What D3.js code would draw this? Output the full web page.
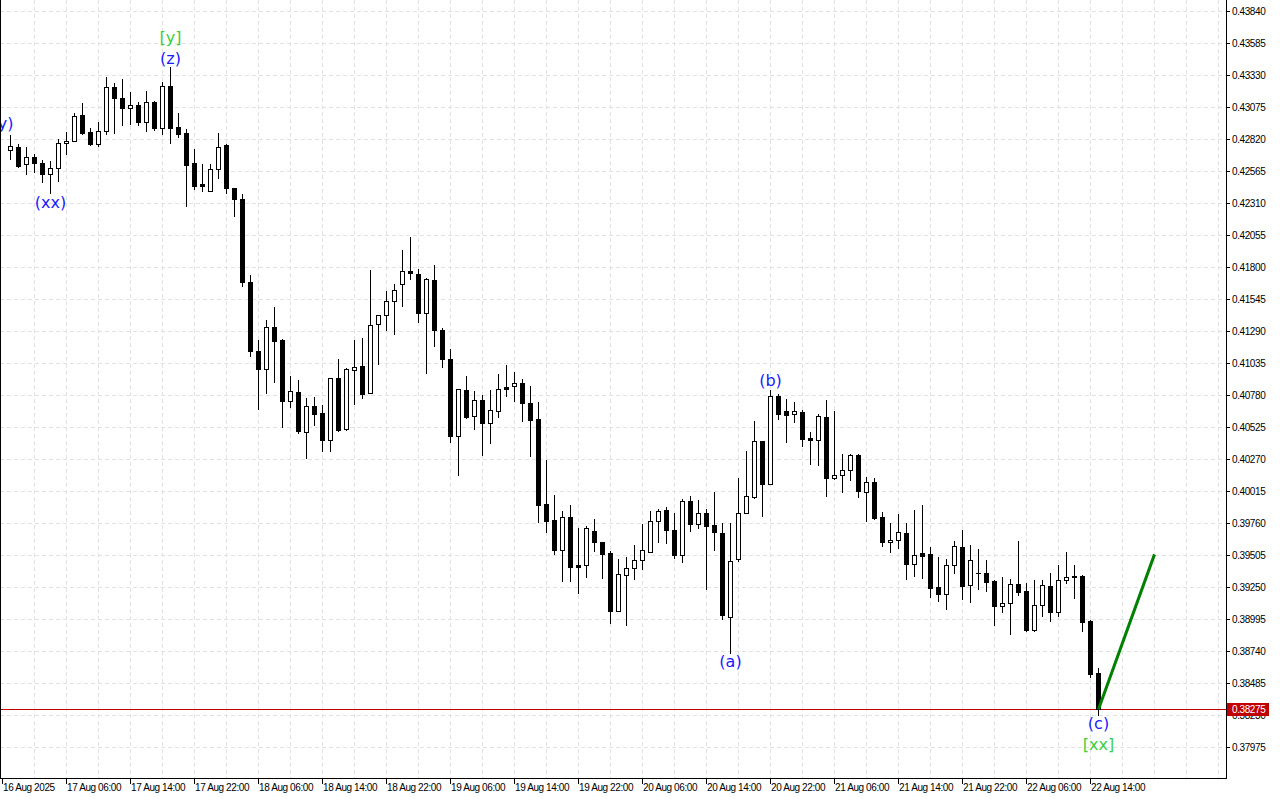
<!DOCTYPE html>
<html><head><meta charset="utf-8">
<script src="https://cdn.jsdelivr.net/npm/d3@7"></script>
<style>body{margin:0;background:#fff;} svg{display:block;}</style>
</head><body><svg id="c" width="1280" height="800"></svg>
<script>
// ---- data (hourly candles, 16 Aug 23:00 .. 22 Aug 15:00) ----
const opens=[0.42732,0.42756,0.42621,0.42677,0.42629,0.42541,0.42589,0.42788,0.42804,0.43011,
0.42876,0.42780,0.42884,0.43234,0.43147,0.43067,0.43091,0.42956,0.43115,0.42908,
0.43242,0.42916,0.42868,0.42629,0.42461,0.42406,0.42581,0.42772,0.42430,0.42342,
0.41681,0.41131,0.40987,0.41322,0.41218,0.40732,0.40804,0.40485,0.40692,0.40637,
0.40421,0.40916,0.40509,0.40979,0.41011,0.40796,0.41346,0.41418,0.41529,0.41665,
0.41768,0.41744,0.41434,0.41696,0.41298,0.41067,0.40453,0.40820,0.40613,0.40740,
0.40557,0.40653,0.40844,0.40852,0.40876,0.40716,0.40589,0.39911,0.39784,0.39545,
0.39808,0.39425,0.39425,0.39696,0.39609,0.39521,0.39059,0.39346,0.39401,0.39465,
0.39529,0.39776,0.39864,0.39704,0.39505,0.39935,0.39752,0.39840,0.39744,0.39680,
0.39011,0.39473,0.39840,0.39967,0.40413,0.40071,0.40772,0.40653,0.40629,0.40645,
0.40437,0.40421,0.40605,0.40119,0.40143,0.40182,0.40302,0.40007,0.40087,0.39808,
0.39609,0.39625,0.39680,0.39433,0.39521,0.39513,0.39250,0.39194,0.39425,0.39569,
0.39266,0.39362,0.39362,0.39298,0.39099,0.39123,0.39274,0.39218,0.38907,0.39107,
0.39258,0.39051,0.39306,0.39338,0.39338,0.38979,0.38565];
const highs=[0.42852,0.42780,0.42756,0.42701,0.42653,0.42645,0.42820,0.42876,0.43027,0.43107,
0.42908,0.42956,0.43314,0.43266,0.43298,0.43195,0.43115,0.43203,0.43123,0.43274,
0.43394,0.43027,0.42900,0.42740,0.42621,0.42621,0.42868,0.42780,0.42430,0.42382,
0.41736,0.41218,0.41378,0.41481,0.41226,0.40932,0.40900,0.40756,0.40764,0.40700,
0.40916,0.41067,0.40995,0.41218,0.41234,0.41776,0.41418,0.41609,0.41665,0.41936,
0.42039,0.41784,0.41712,0.41816,0.41314,0.41147,0.40828,0.40932,0.40812,0.40780,
0.40820,0.40947,0.41019,0.40963,0.40908,0.40852,0.40724,0.40262,0.39983,0.39856,
0.39904,0.39720,0.39736,0.39792,0.39609,0.39537,0.39473,0.39489,0.39585,0.39752,
0.39856,0.39872,0.39888,0.39840,0.39951,0.39975,0.39943,0.39872,0.40007,0.39760,
0.39760,0.40119,0.40334,0.40573,0.40413,0.40820,0.40788,0.40748,0.40724,0.40661,
0.40485,0.40629,0.40740,0.40653,0.40310,0.40310,0.40310,0.40127,0.40119,0.39848,
0.39760,0.39832,0.39760,0.39864,0.39904,0.39569,0.39489,0.39473,0.39617,0.39704,
0.39585,0.39553,0.39465,0.39306,0.39330,0.39314,0.39617,0.39282,0.39306,0.39306,
0.39362,0.39425,0.39529,0.39425,0.39346,0.38987,0.38604];
const lows=[0.42661,0.42597,0.42541,0.42557,0.42477,0.42390,0.42485,0.42701,0.42804,0.42860,
0.42772,0.42764,0.42860,0.42868,0.42932,0.42940,0.42932,0.42884,0.42892,0.42860,
0.42788,0.42836,0.42286,0.42422,0.42406,0.42406,0.42509,0.42390,0.42207,0.41649,
0.41091,0.40669,0.40796,0.40884,0.40525,0.40684,0.40477,0.40278,0.40541,0.40334,
0.40334,0.40493,0.40501,0.40708,0.40756,0.40796,0.41027,0.41298,0.41266,0.41489,
0.41704,0.41362,0.40955,0.41171,0.41003,0.40406,0.40143,0.40597,0.40509,0.40302,
0.40398,0.40605,0.40772,0.40732,0.40573,0.40294,0.39768,0.39688,0.39513,0.39298,
0.39298,0.39202,0.39330,0.39537,0.39322,0.38963,0.39059,0.38947,0.39314,0.39394,
0.39529,0.39609,0.39601,0.39481,0.39449,0.39696,0.39720,0.39234,0.39545,0.38995,
0.38724,0.39457,0.39840,0.39959,0.39816,0.40071,0.40589,0.40406,0.40565,0.40374,
0.40230,0.40222,0.39975,0.40111,0.40007,0.40103,0.39967,0.39776,0.39795,0.39577,
0.39529,0.39561,0.39314,0.39338,0.39322,0.39170,0.39138,0.39075,0.39362,0.39154,
0.39131,0.39234,0.39218,0.38947,0.39051,0.38876,0.39186,0.38899,0.38899,0.39019,
0.38979,0.39019,0.39282,0.39162,0.38899,0.38533,0.38230];
const closes=[0.42764,0.42605,0.42677,0.42629,0.42541,0.42589,0.42788,0.42804,0.43003,0.42868,
0.42780,0.42884,0.43234,0.43147,0.43067,0.43091,0.42956,0.43115,0.42908,0.43242,
0.42908,0.42860,0.42613,0.42446,0.42446,0.42581,0.42756,0.42430,0.42342,0.41681,
0.41131,0.40987,0.41322,0.41210,0.40732,0.40812,0.40493,0.40692,0.40629,0.40421,
0.40916,0.40501,0.40987,0.41003,0.40788,0.41338,0.41418,0.41529,0.41617,0.41768,
0.41752,0.41434,0.41704,0.41298,0.41067,0.40453,0.40828,0.40605,0.40740,0.40557,
0.40661,0.40828,0.40828,0.40876,0.40716,0.40581,0.39904,0.39776,0.39545,0.39808,
0.39409,0.39409,0.39720,0.39609,0.39513,0.39059,0.39354,0.39401,0.39465,0.39545,
0.39776,0.39856,0.39704,0.39505,0.39935,0.39752,0.39840,0.39736,0.39688,0.39027,
0.39457,0.39840,0.39975,0.40413,0.40071,0.40772,0.40629,0.40621,0.40653,0.40429,
0.40421,0.40613,0.40119,0.40143,0.40182,0.40302,0.40015,0.40087,0.39800,0.39609,
0.39625,0.39688,0.39433,0.39505,0.39497,0.39242,0.39194,0.39425,0.39577,0.39258,
0.39465,0.39362,0.39290,0.39099,0.39123,0.39274,0.39210,0.38907,0.39107,0.39266,
0.39051,0.39306,0.39330,0.39330,0.38971,0.38557,0.38275];

const timeLabels=["16 Aug 2025","17 Aug 06:00","17 Aug 14:00","17 Aug 22:00","18 Aug 06:00","18 Aug 14:00",
"18 Aug 22:00","19 Aug 06:00","19 Aug 14:00","19 Aug 22:00","20 Aug 06:00","20 Aug 14:00",
"20 Aug 22:00","21 Aug 06:00","21 Aug 14:00","21 Aug 22:00","22 Aug 06:00","22 Aug 14:00"];
const timeLabelIndex=[-1,7,15,23,31,39,47,55,63,71,79,87,95,103,111,119,127,135];
const priceTicks=[0.43840,0.43585,0.43330,0.43075,0.42820,0.42565,0.42310,0.42055,0.41800,0.41545,
0.41290,0.41035,0.40780,0.40525,0.40270,0.40015,0.39760,0.39505,0.39250,0.38995,0.38740,0.38485,0.38230,0.37975];
const currentPrice=0.38275;
const projIndex=[136,143];
const projPrice=[0.38275,0.39510];
const waveText=["(y)","(xx)","[y]","(z)","(a)","(b)","(c)","[xx]"];
const waveIndex=[-1,5,20,20,90,95,136,136];
const wavePrice=[0.42940,0.42318,0.43627,0.43460,0.38660,0.40892,0.38166,0.37991];
const waveColor=["#1a1aff","#1a1aff","#3ccf3c","#1a1aff","#1a1aff","#1a1aff","#1a1aff","#3ccf3c"];

// ---- layout ----
const W=1280,H=800, plotR=1226, plotB=778;
const svg=d3.select("#c");
svg.append("rect").attr("width",W).attr("height",H).attr("fill","#fff");
const x=d3.scaleLinear().domain([-1,143]).range([2.5,1154.5]);
const y=d3.scaleLinear().domain([0.37728,0.439277]).range([plotB,0]);
const ry=v=>Math.round(y(v));

svg.append("clipPath").attr("id","pc").append("rect").attr("x",0).attr("y",0).attr("width",plotR).attr("height",plotB);
const plot=svg.append("g").attr("clip-path","url(#pc)");

// grid
const gridColor="#e2e2e2";
const gx=d3.range(3,152,4);
plot.append("g").selectAll("line").data(gx).join("line")
  .attr("x1",d=>x(d)).attr("x2",d=>x(d)).attr("y1",0).attr("y2",plotB)
  .attr("stroke",gridColor).attr("stroke-dasharray","4,3");
plot.append("g").selectAll("line").data(priceTicks).join("line")
  .attr("x1",0).attr("x2",plotR).attr("y1",d=>ry(d)+0.5).attr("y2",d=>ry(d)+0.5)
  .attr("stroke",gridColor).attr("stroke-dasharray","4,3");

// current price line
plot.append("line").attr("x1",0).attr("x2",plotR)
  .attr("y1",ry(currentPrice)+0.5).attr("y2",ry(currentPrice)+0.5)
  .attr("stroke","#c00000").attr("stroke-width",1);

// candles
const idx=d3.range(opens.length);
const cg=plot.append("g");
cg.selectAll("line.w").data(idx).join("line").attr("class","w")
  .attr("x1",i=>x(i)).attr("x2",i=>x(i))
  .attr("y1",i=>ry(highs[i])).attr("y2",i=>ry(lows[i])+1)
  .attr("stroke","#000").attr("stroke-width",1);
idx.forEach(i=>{
  const o=opens[i],c=closes[i];
  const top=ry(Math.max(o,c)), bot=ry(Math.min(o,c));
  const cx=x(i);
  if(bot-top<1){
    cg.append("line").attr("x1",cx-2.5).attr("x2",cx+2.5).attr("y1",top+0.5).attr("y2",top+0.5)
      .attr("stroke","#000");
  } else {
    cg.append("rect").attr("x",cx-2).attr("y",top+0.5).attr("width",4).attr("height",bot-top)
      .attr("fill",c<o?"#000":"#fff").attr("stroke","#000").attr("stroke-width",1);
  }
});

// projection line
plot.append("line")
  .attr("x1",x(projIndex[0])).attr("y1",y(projPrice[0]))
  .attr("x2",x(projIndex[1])).attr("y2",y(projPrice[1]))
  .attr("stroke","#008000").attr("stroke-width",3).attr("stroke-linecap","butt");

// wave labels
plot.append("g").selectAll("text").data(waveText).join("text")
  .attr("x",(d,i)=>x(waveIndex[i])).attr("y",(d,i)=>y(wavePrice[i]))
  .attr("text-anchor","middle").attr("dominant-baseline","central")
  .attr("font-family","DejaVu Sans, sans-serif").attr("font-size",16)
  .attr("fill",(d,i)=>waveColor[i]).text(d=>d);

// axes frame
svg.append("line").attr("x1",plotR+0.5).attr("x2",plotR+0.5).attr("y1",0).attr("y2",plotB+1).attr("stroke","#000");
svg.append("line").attr("x1",0).attr("x2",plotR+1).attr("y1",plotB+0.5).attr("y2",plotB+0.5).attr("stroke","#000");
svg.append("line").attr("x1",0.5).attr("x2",0.5).attr("y1",0).attr("y2",plotB).attr("stroke","#000");

const axFont="Liberation Sans, Arial, sans-serif";
// price axis
const pa=svg.append("g");
pa.selectAll("line").data(priceTicks).join("line")
  .attr("x1",plotR).attr("x2",plotR+4).attr("y1",d=>ry(d)+0.5).attr("y2",d=>ry(d)+0.5).attr("stroke","#000");
pa.selectAll("text").data(priceTicks).join("text")
  .attr("x",plotR+6).attr("y",d=>ry(d)+4)
  .attr("font-family",axFont).attr("font-size",10).attr("letter-spacing","-0.4px").attr("fill","#000")
  .text(d=>d3.format(".5f")(d));

// time axis
const ta=svg.append("g");
ta.selectAll("line").data(timeLabelIndex).join("line")
  .attr("x1",d=>Math.floor(x(d))+0.5).attr("x2",d=>Math.floor(x(d))+0.5).attr("y1",plotB).attr("y2",plotB+6).attr("stroke","#000");
ta.selectAll("text").data(timeLabels).join("text")
  .attr("x",(d,i)=>Math.floor(x(timeLabelIndex[i]))+1).attr("y",plotB+13)
  .attr("font-family",axFont).attr("font-size",10).attr("letter-spacing","-0.4px").attr("fill","#000").text(d=>d);

// current price tag
const cy=ry(currentPrice);
svg.append("rect").attr("x",plotR+1).attr("y",cy-6).attr("width",42).attr("height",13).attr("fill","#c00000");
svg.append("text").attr("x",plotR+6).attr("y",cy+4).attr("font-family",axFont).attr("font-size",10)
  .attr("letter-spacing","-0.4px").attr("fill","#fff").text(d3.format(".5f")(currentPrice));
</script></body></html>
